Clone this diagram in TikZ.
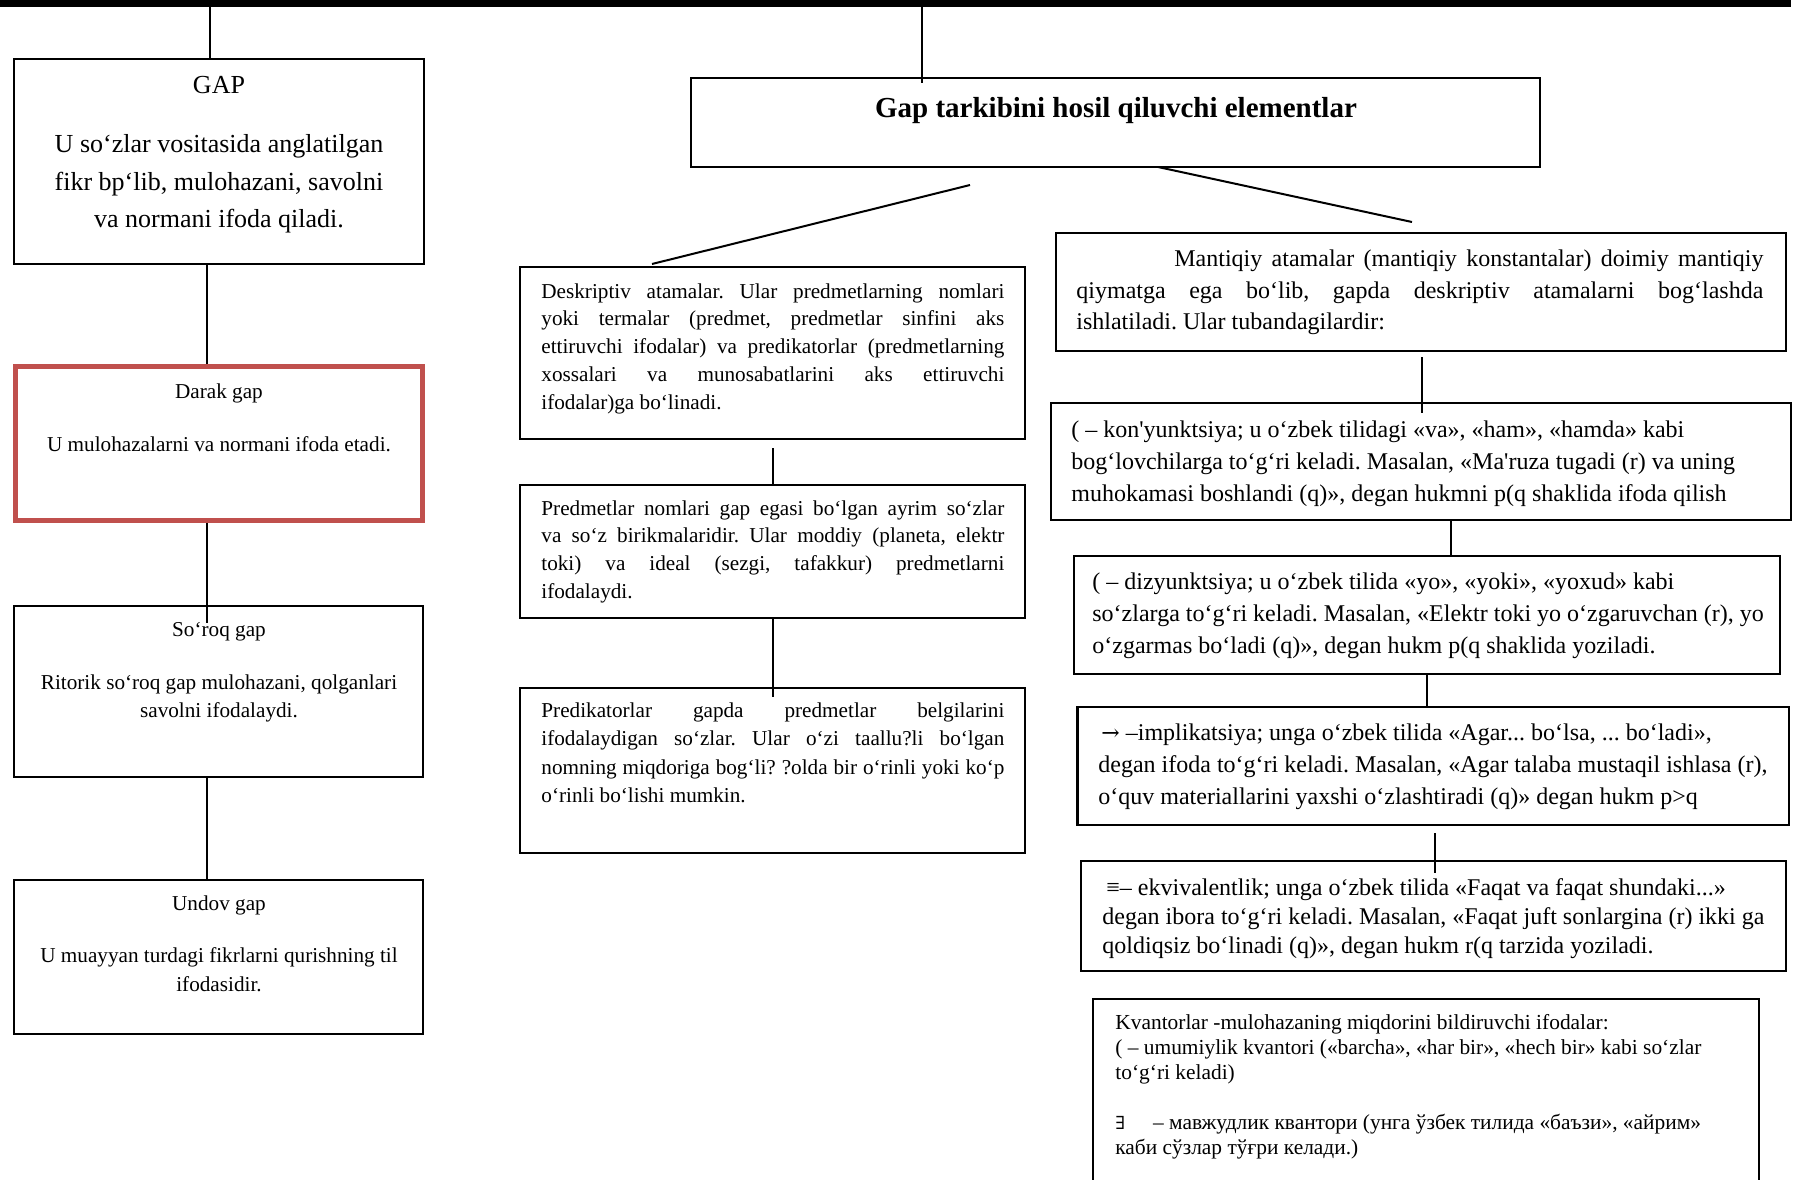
\documentclass[tikz,border=0pt]{standalone}
\usepackage{fontspec}
\setmainfont{Liberation Serif}[Ligatures=TeXOff]
\newfontfamily\symfnt{DejaVu Serif}
\usetikzlibrary{fit}
\definecolor{darakred}{HTML}{C0504D}
\tikzset{
  box/.style={draw=black, line width=1.1pt, inner sep=0pt},
  redbox/.style={draw=darakred, line width=2.6pt, inner sep=0pt},
  conn/.style={draw=black, line width=1pt},
  bar/.style={draw=black, line width=3.5pt},
  txt/.style={inner sep=0pt, anchor=base west},
  ctxt/.style={inner sep=0pt, anchor=base},
}
\newcommand\fsz[2]{\fontsize{#1}{#2}\selectfont}
\frenchspacing
\begin{document}
\begin{tikzpicture}[x=0.5pt,y=-0.5pt]
\useasboundingbox (0,0) rectangle (1794,1179);
\clip (0,0) rectangle (1794,1179);

% top bar
\coordinate (barL) at (0,3.5);
\coordinate (barR) at (1791,3.5);
\draw[bar] (barL) -- (barR);

% ---------- left column ----------
\node[box, fit={(14,59) (424,264)}] (gap) {};
\node[redbox, fit={(15.6,366.6) (422.4,520.4)}] (darak) {};
\node[box, fit={(14,606) (423,777)}] (soroq) {};
\node[box, fit={(14,880) (423,1034)}] (undov) {};

\node[ctxt] (gapt) at (219,93) {\parbox[t]{200pt}{\centering\fsz{13}{18.75}GAP\\[11pt]
U so‘zlar vositasida anglatilgan\\ fikr bp‘lib, mulohazani, savolni\\ va normani ifoda qiladi.}};
\node[ctxt] (darakt) at (219,398) {\parbox[t]{200pt}{\centering\fsz{10.6}{14}Darak gap\\[12.8pt]
U mulohazalarni va normani ifoda etadi.}};
\node[ctxt] (soroqt) at (219,636) {\parbox[t]{200pt}{\centering\fsz{10.6}{14}So‘roq gap\\[12.8pt]
Ritorik so‘roq gap mulohazani, qolganlari\\ savolni ifodalaydi.}};
\node[ctxt] (undovt) at (219,910) {\parbox[t]{200pt}{\centering\fsz{10.6}{14.5}Undov gap\\[11.5pt]
U muayyan turdagi fikrlarni qurishning til\\ ifodasidir.}};

\coordinate (t1) at (210,7);
\draw[conn] (t1) -- (t1 |- gap.north);
\coordinate (l1) at (207,0);
\coordinate (l1e) at (207,623);
\draw[conn] (l1 |- gap.south) -- (l1 |- darak.north);
\draw[conn] (l1 |- darak.south) -- (l1e);
\draw[conn] (l1 |- soroq.south) -- (l1 |- undov.north);

% ---------- title ----------
\node[box, fit={(691,78) (1540,167)}] (title) {};
\node[ctxt] (titlet) at (1116,117) {\fsz{14.5}{17}\bfseries Gap tarkibini hosil qiluvchi elementlar};
\coordinate (t2) at (922,7);
\coordinate (t2e) at (922,83);
\draw[conn] (t2) -- (t2e);

% ---------- middle column ----------
\node[box, fit={(520,267) (1025,439)}] (desk) {};
\node[box, fit={(520,485) (1025,618)}] (predm) {};
\node[box, fit={(520,688) (1025,853)}] (predik) {};

\coordinate (d1s) at (970,185);
\coordinate (d1e) at (652,264);
\draw[conn] (d1s) -- (d1e);

\node[txt] (deskt) at (541,298) {\parbox[t]{231.5pt}{\fsz{10.6}{13.9}%
Deskriptiv atamalar. Ular predmetlarning nomlari\linebreak
yoki termalar (predmet, predmetlar sinfini aks\linebreak
ettiruvchi ifodalar) va predikatorlar (predmetlarning\linebreak
xossalari va munosabatlarini aks ettiruvchi\linebreak
ifodalar)ga bo‘linadi.}};
\node[txt] (predmt) at (541,515) {\parbox[t]{231.5pt}{\fsz{10.6}{13.9}%
Predmetlar nomlari gap egasi bo‘lgan ayrim so‘zlar\linebreak
va so‘z birikmalaridir. Ular moddiy (planeta, elektr\linebreak
toki) va ideal (sezgi, tafakkur) predmetlarni\linebreak
ifodalaydi.}};
\node[txt] (predikt) at (541,717) {\parbox[t]{231.5pt}{\fsz{10.6}{14.3}%
Predikatorlar gapda predmetlar belgilarini\linebreak
ifodalaydigan so‘zlar. Ular o‘zi taallu?li bo‘lgan\linebreak
nomning miqdoriga bog‘li? ?olda bir o‘rinli yoki ko‘p\linebreak
o‘rinli bo‘lishi mumkin.}};

\coordinate (m1) at (772.5,448);
\draw[conn] (m1) -- (m1 |- predm.north);
\coordinate (m2e) at (772.5,697);
\draw[conn] (m2e |- predm.south) -- (m2e);

% ---------- right column ----------
\node[box, fit={(1056,233) (1786,351)}] (mant) {};
\node[box, fit={(1051,403) (1791,520)}] (kon) {};
\node[box, fit={(1074,556) (1780,674)}] (diz) {};
\node[box, fit={(1077.5,707) (1789,825)}] (impl) {};
\node[box, fit={(1081,861) (1785.6,971)}] (ekv) {};
\node[box, fit={(1093,999) (1759,1200)}] (kvan) {};

\coordinate (d2s) at (1158,167);
\coordinate (d2e) at (1412,222);
\draw[conn] (d2s) -- (d2e);

\node[txt] (mantt) at (1076,266.5) {\parbox[t]{343.5pt}{\fsz{12}{15.75}%
\hspace*{49pt}Mantiqiy atamalar (mantiqiy konstantalar) doimiy mantiqiy\linebreak
qiymatga ega bo‘lib, gapda deskriptiv atamalarni bog‘lashda\linebreak
ishlatiladi. Ular tubandagilardir:}};
\node[txt] (kont) at (1071,437) {\parbox[t]{400pt}{\raggedright\fsz{12}{16}%
( – kon'yunktsiya; u o‘zbek tilidagi «va», «ham», «hamda» kabi\\
bog‘lovchilarga to‘g‘ri keladi. Masalan, «Ma'ruza tugadi (r) va uning\\
muhokamasi boshlandi (q)», degan hukmni p(q shaklida ifoda qilish}};
\node[txt] (dizt) at (1092,589.5) {\parbox[t]{400pt}{\raggedright\fsz{12}{16}%
( – dizyunktsiya; u o‘zbek tilida «yo», «yoki», «yoxud» kabi\\
so‘zlarga to‘g‘ri keladi. Masalan, «Elektr toki yo o‘zgaruvchan (r), yo\\
o‘zgarmas bo‘ladi (q)», degan hukm p(q shaklida yoziladi.}};
\node[txt] (implt) at (1098,740.5) {\parbox[t]{400pt}{\raggedright\fsz{12}{16}%
\hspace*{1.5pt}{\symfnt\fontsize{11}{16}\selectfont →} –implikatsiya; unga o‘zbek tilida «Agar... bo‘lsa, ... bo‘ladi»,\\
degan ifoda to‘g‘ri keladi. Masalan, «Agar talaba mustaqil ishlasa (r),\\
o‘quv materiallarini yaxshi o‘zlashtiradi (q)» degan hukm p>q}};
\node[txt] (ekvt) at (1102,895) {\parbox[t]{400pt}{\raggedright\fsz{12}{14.6}%
\hspace*{2pt}≡– ekvivalentlik; unga o‘zbek tilida «Faqat va faqat shundaki...»\\
degan ibora to‘g‘ri keladi. Masalan, «Faqat juft sonlargina (r) ikki ga\\
qoldiqsiz bo‘linadi (q)», degan hukm r(q tarzida yoziladi.}};
\node[txt] (kvant) at (1115,1029) {\parbox[t]{400pt}{\raggedright\fsz{10.7}{12.5}%
Kvantorlar -mulohazaning miqdorini bildiruvchi ifodalar:\\
( – umumiylik kvantori («barcha», «har bir», «hech bir» kabi so‘zlar\\
to‘g‘ri keladi)\\[12.5pt]
{\symfnt\fontsize{9}{12.5}\selectfont ∃}\hspace{14pt}– мавжудлик квантори (унга ўзбек тилида «баъзи», «айрим»\\
каби сўзлар тўғри келади.)}};

\coordinate (r1) at (1422,357);
\coordinate (r1e) at (1422,413);
\draw[conn] (r1) -- (r1e);
\coordinate (r2) at (1451,0);
\draw[conn] (r2 |- kon.south) -- (r2 |- diz.north);
\coordinate (r3) at (1427,0);
\draw[conn] (r3 |- diz.south) -- (r3 |- impl.north);
\coordinate (r4) at (1434.5,833);
\coordinate (r4e) at (1434.5,873);
\draw[conn] (r4) -- (r4e);
\end{tikzpicture}
\end{document}
